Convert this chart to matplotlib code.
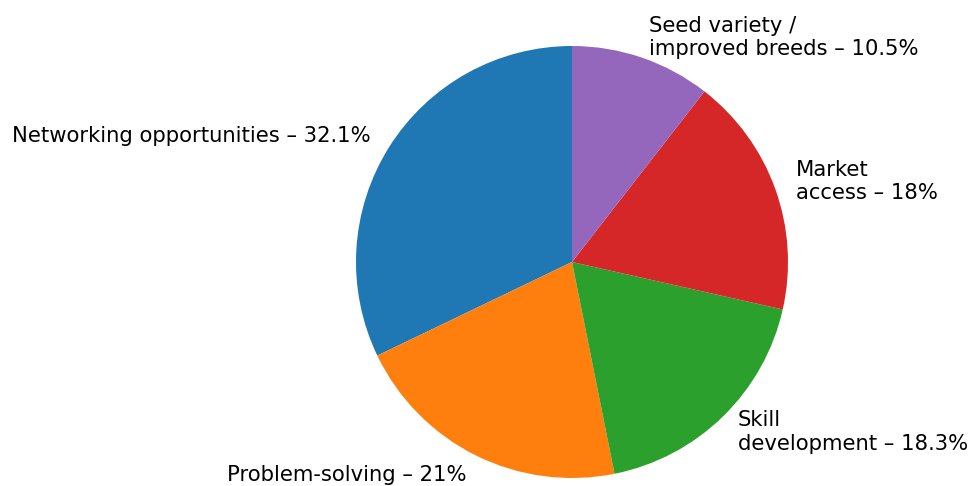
import matplotlib
matplotlib.use("Agg")
import matplotlib.pyplot as plt

labels = ["Networking opportunities", "Problem-solving", "Skill\ndevelopment",
          "Market\naccess", "Seed variety /\nimproved breeds"]
pct = [32.1, 21, 18.3, 18, 10.5]
colors = ["#1f77b4", "#ff7f0e", "#2ca02c", "#d62728", "#9467bd"]

texts = ["%s – %s%%" % (l, ("%g" % p)) for l, p in zip(labels, pct)]

fig = plt.figure(figsize=(9.74, 4.86), dpi=100)
ax = fig.add_axes([0, 0, 1, 1])
wedges, txt = ax.pie(pct, labels=texts, colors=colors, startangle=90,
                     counterclock=True, labeldistance=1.1,
                     textprops={"fontsize": 15.2})

# pie center at (572, 262) px, radius 216 px
r = 216.0
ax.set_xlim(-572 / r, (974 - 572) / r)
ax.set_ylim(-(486 - 262) / r, 262 / r)
ax.set_aspect("auto")
ax.axis("off")

fig.savefig("out.png", dpi=100)
